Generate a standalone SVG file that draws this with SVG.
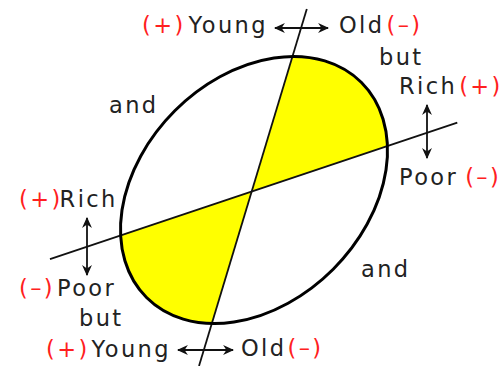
<svg xmlns="http://www.w3.org/2000/svg" width="503" height="366" viewBox="0 0 503 366">
<defs>
<marker id="ah" viewBox="0 0 10 10" refX="9" refY="5" markerWidth="11" markerHeight="11" markerUnits="userSpaceOnUse" orient="auto-start-reverse">
<path d="M0,0.5 L10,5 L0,9.5 L3,5 Z" fill="#111"/>
</marker>
</defs>
<style>
text{font-family:"DejaVu Sans","Verdana",sans-serif;font-size:22.5px;letter-spacing:2.4px;fill:#222}
.r{fill:#ff2020}
.ax{stroke:#111;stroke-width:1.8;fill:none}
.arr{stroke:#111;stroke-width:1.8;fill:none;marker-start:url(#ah);marker-end:url(#ah)}
</style>
<rect width="503" height="366" fill="#fff"/>
<g id="sectors" fill="#ffff00">
<path d="M251.7,191.5 L292.5,56.5 A152,112 -45 0 1 387.4,146 Z"/>
<path d="M251.7,191.5 L120.6,235.4 A152,112 -45 0 0 211.8,323.5 Z"/>
</g>
<g id="axes">
<line class="ax" x1="306.8" y1="9" x2="199" y2="366"/>
<line class="ax" x1="50" y1="259.1" x2="457.3" y2="122.6"/>
</g>
<ellipse id="ellipse" cx="254" cy="190" rx="152" ry="112" transform="rotate(-45 254 190)" fill="none" stroke="#000" stroke-width="3"/>
<g id="arrows">
<line class="arr" x1="275" y1="28" x2="328" y2="28"/>
<line class="arr" x1="178" y1="350" x2="233" y2="350"/>
<line class="arr" x1="427" y1="105" x2="427" y2="158"/>
<line class="arr" x1="87" y1="218" x2="87" y2="275"/>
</g>
<g id="labels">
<text x="142" y="33"><tspan class="r">(+)</tspan><tspan dx="3">Young</tspan></text>
<text x="339" y="33">Old<tspan class="r" dx="2">(–)</tspan></text>
<text x="379" y="65">but</text>
<text x="399" y="94">Rich<tspan class="r" dx="2">(+)</tspan></text>
<text x="399" y="185">Poor<tspan class="r" dx="7">(–)</tspan></text>
<text x="109" y="113">and</text>
<text x="361" y="277">and</text>
<text x="19" y="207"><tspan class="r">(+)</tspan><tspan dx="-3">Rich</tspan></text>
<text x="19" y="296"><tspan class="r">(–)</tspan><tspan dx="2">Poor</tspan></text>
<text x="79" y="326">but</text>
<text x="46" y="357"><tspan class="r">(+)</tspan><tspan dx="2">Young</tspan></text>
<text x="241" y="356">Old<tspan class="r" dx="1">(–)</tspan></text>
</g>
</svg>
